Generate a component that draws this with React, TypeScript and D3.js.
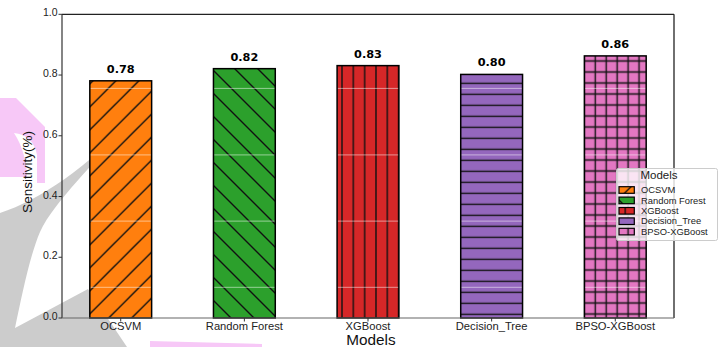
import React from "react";
import * as d3 from "d3";

const categories = ["OCSVM", "Random Forest", "XGBoost", "Decision_Tree", "BPSO-XGBoost"];
const sensitivity = [0.781, 0.821, 0.831, 0.802, 0.863];
const valueLabels = ["0.78", "0.82", "0.83", "0.80", "0.86"];
const yTicks = [0, 0.2, 0.4, 0.6, 0.8, 1.0];
const yTickLabels = ["0.0", "0.2", "0.4", "0.6", "0.8", "1.0"];
const colors = ["#ff7f0e", "#2ca02c", "#d62728", "#9467bd", "#e377c2"];
const gridLevels = [0.101, 0.319, 0.537, 0.756];

const W = 724;
const H = 347;
const M = { left: 62, right: 674, top: 14.3, bottom: 318 };
const FONT = "'Liberation Sans', Arial, sans-serif";
const BOLD = "'DejaVu Sans', sans-serif";

export default function App() {
  const x = d3.scaleLinear().domain([-0.475, 4.475]).range([M.left, M.right]);
  const y = d3.scaleLinear().domain([0, 1]).range([M.bottom, M.top]);
  const bw = x(0.5) - x(0);
  const hs = 1.4;
  const hc = "#111";

  const defs = (
    <defs>
      <pattern id="h0" patternUnits="userSpaceOnUse" width={23} height={23} x={12.7} y={0}>
        <path d="M-2,2 L2,-2 M0,23 L23,0 M21,25 L25,21" stroke={hc} strokeWidth={hs} />
      </pattern>
      <pattern id="h1" patternUnits="userSpaceOnUse" width={23} height={23} x={5} y={0}>
        <path d="M0,0 L23,23 M-2,21 L2,25 M21,-2 L25,2" stroke={hc} strokeWidth={hs} />
      </pattern>
      <pattern id="h2" patternUnits="userSpaceOnUse" width={11.33} height={10} x={342 - 5.665} y={0}>
        <path d="M5.665,-1 L5.665,11" stroke={hc} strokeWidth={hs} />
      </pattern>
      <pattern id="h3" patternUnits="userSpaceOnUse" width={10} height={11} x={0} y={83.3 - 5.5}>
        <path d="M-1,5.5 L11,5.5" stroke={hc} strokeWidth={hs} />
      </pattern>
      <pattern id="h4" patternUnits="userSpaceOnUse" width={10.95} height={11} x={584.3 - 5.475} y={61 - 5.5}>
        <path d="M5.475,-1 L5.475,12 M-1,5.5 L12,5.5" stroke={hc} strokeWidth={hs} />
      </pattern>
    </defs>
  );

  return (
    <svg width={W} height={H} style={{ position: "absolute", left: 0, top: 0, background: "#fff" }}>
      {defs}
      {/* watermark */}
      <g>
        <path
          d="M0,213 C40,200 90,165 125,125 C95,165 55,200 40,232 C30,255 22,295 15,328 L88,289 L127,347 L0,347 Z"
          fill="#cccccc"
        />
        <path
          d="M0,98 L16,98 L45,127 L45,183 L37,183 L37,155 C35,142 26,134 14,133 C22,145 27,162 27,177 L0,177 Z"
          fill="#f7c8f7"
        />
        <path d="M150,341 L262,344 L262,347 L150,347 Z" fill="#f7c8f7" />
      </g>

      {/* bars */}
      {categories.map((c, i) => {
        const x0 = x(i) - bw / 2;
        const y0 = y(sensitivity[i]);
        const h = y(0) - y0;
        return (
          <g key={c}>
            <rect x={x0} y={y0} width={bw} height={h} fill={colors[i]} />
            <rect x={x0} y={y0} width={bw} height={h} fill={`url(#h${i})`} />
            {gridLevels
              .filter((g) => g < sensitivity[i])
              .map((g) => (
                <line key={g} x1={x0} x2={x0 + bw} y1={y(g)} y2={y(g)} stroke="#fff" strokeOpacity={0.5} strokeWidth={1} />
              ))}
            <rect x={x0} y={y0} width={bw} height={h} fill="none" stroke="#000" strokeWidth={1.5} />
            <text
              x={x(i)}
              y={y0 - 8}
              textAnchor="middle"
              fontFamily={BOLD}
              fontWeight="bold"
              fontSize={11.3}
              fill="#000"
            >
              {valueLabels[i]}
            </text>
          </g>
        );
      })}

      {/* spines */}
      <line x1={M.left} x2={M.right} y1={M.top} y2={M.top} stroke="#222" strokeWidth={1.3} />
      <line x1={M.right} x2={M.right} y1={M.top} y2={M.bottom} stroke="#222" strokeWidth={1.3} />
      <line x1={M.left} x2={M.left} y1={M.top} y2={M.bottom} stroke="#333" strokeWidth={1.2} />
      <line x1={M.left} x2={M.right} y1={M.bottom} y2={M.bottom} stroke="#666" strokeWidth={1.2} />

      {/* y ticks */}
      {yTicks.map((t, i) => (
        <g key={t}>
          <line x1={M.left - 3.5} x2={M.left} y1={y(t)} y2={y(t)} stroke="#333" strokeWidth={1} />
          <text x={M.left - 4.5} y={y(t) + 2} textAnchor="end" fontFamily={FONT} fontSize={10.5} fill="#222">
            {yTickLabels[i]}
          </text>
        </g>
      ))}

      {/* x ticks */}
      {categories.map((c, i) => (
        <g key={c}>
          <line x1={x(i)} x2={x(i)} y1={M.bottom} y2={M.bottom + 3.5} stroke="#333" strokeWidth={1} />
          <text x={x(i)} y={M.bottom + 11.5} textAnchor="middle" fontFamily={FONT} fontSize={11.2} fill="#222">
            {c}
          </text>
        </g>
      ))}

      {/* axis labels */}
      <text x={371} y={344.5} textAnchor="middle" fontFamily={FONT} fontSize={15.3} fill="#111">
        Models
      </text>
      <text
        transform="translate(31.5,172) rotate(-90)"
        textAnchor="middle"
        fontFamily={FONT}
        fontSize={13.5}
        fill="#111"
      >
        Sensitivity(%)
      </text>

      {/* legend */}
      <g>
        <rect x={616.5} y={168.5} width={101} height={72} rx={2} fill="#fff" fillOpacity={0.8} stroke="#ccc" strokeWidth={1} />
        <text x={659} y={178.5} textAnchor="middle" fontFamily={FONT} fontSize={11.5} fill="#222">
          Models
        </text>
        {categories.map((c, i) => {
          const cy = 190 + i * 10.4;
          return (
            <g key={c}>
              <rect x={619} y={cy - 3.3} width={15.3} height={6.6} fill={colors[i]} />
              <rect x={619} y={cy - 3.3} width={15.3} height={6.6} fill={`url(#h${i})`} />
              <rect x={619} y={cy - 3.3} width={15.3} height={6.6} fill="none" stroke="#000" strokeWidth={1.2} />
              <text x={641} y={cy + 3.2} fontFamily={FONT} fontSize={9.4} fill="#222">
                {c}
              </text>
            </g>
          );
        })}
      </g>
    </svg>
  );
}
